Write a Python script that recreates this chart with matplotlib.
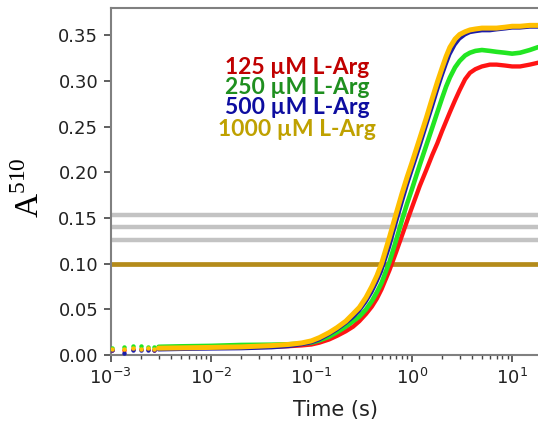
import matplotlib
matplotlib.use("Agg")
import matplotlib.pyplot as plt
from matplotlib.ticker import LogLocator, FixedLocator, FormatStrFormatter

# ---- data -----------------------------------------------------------
# sparse first samples (shown as separate dots)
t_early = [0.00103, 0.00136, 0.00168, 0.00200, 0.00235, 0.00270]
a_early_125 = [0.0060, 0.0050, 0.0070, 0.0065, 0.0070, 0.0060]
a_early_250 = [0.0075, 0.0090, 0.0095, 0.0095, 0.0090, 0.0085]
a_early_500 = [0.0050, 0.0025, 0.0055, 0.0050, 0.0060, 0.0050]
a_early_1000 = [0.0070, 0.0068, 0.0072, 0.0070, 0.0072, 0.0068]

# dense part of the traces
t_trace = [0.003, 0.005, 0.01, 0.02, 0.04, 0.06, 0.08, 0.1, 0.12, 0.15,
           0.18, 0.22, 0.26, 0.3, 0.35, 0.4, 0.45, 0.5, 0.6, 0.7,
           0.8, 0.9, 1.0, 1.2, 1.4, 1.6, 1.8, 2.0, 2.2, 2.4,
           2.7, 3.0, 3.4, 3.8, 4.3, 5.0, 6.0, 7.0, 8.5, 10,
           12, 15, 18, 22, 30]
a_125 = [0.0075, 0.0078, 0.0080, 0.0085, 0.0090, 0.0097, 0.0105, 0.0115, 0.0135, 0.017,
         0.021, 0.026, 0.031, 0.037, 0.045, 0.053, 0.062, 0.072, 0.093, 0.113,
         0.131, 0.147, 0.161, 0.185, 0.203, 0.219, 0.232, 0.245, 0.256, 0.266,
         0.279, 0.290, 0.302, 0.309, 0.313, 0.316, 0.318, 0.318, 0.317, 0.316,
         0.316, 0.318, 0.320, 0.322, 0.323]
a_250 = [0.0090, 0.0095, 0.0100, 0.0110, 0.0113, 0.0118, 0.0125, 0.0135, 0.016, 0.020,
         0.025, 0.031, 0.037, 0.042, 0.050, 0.059, 0.069, 0.079, 0.102, 0.126,
         0.148, 0.166, 0.181, 0.208, 0.230, 0.249, 0.266, 0.281, 0.294, 0.304,
         0.315, 0.322, 0.328, 0.331, 0.333, 0.334, 0.333, 0.332, 0.331, 0.330,
         0.331, 0.334, 0.337, 0.339, 0.341]
a_500 = [0.0055, 0.0060, 0.0065, 0.0068, 0.0078, 0.0092, 0.0112, 0.0134, 0.0165, 0.0222,
         0.0275, 0.0345, 0.041, 0.048, 0.058, 0.0685, 0.080, 0.0915, 0.118, 0.1445,
         0.1665, 0.1855, 0.201, 0.2275, 0.251, 0.271, 0.2895, 0.305, 0.318, 0.329,
         0.3395, 0.346, 0.3505, 0.353, 0.354, 0.355, 0.355, 0.356, 0.357, 0.358,
         0.358, 0.359, 0.359, 0.360, 0.360]
a_1000 = [0.0075, 0.0078, 0.0083, 0.0089, 0.0103, 0.0116, 0.0132, 0.0155, 0.019, 0.0245,
          0.030, 0.037, 0.045, 0.052, 0.063, 0.075, 0.087, 0.100, 0.129, 0.155,
          0.177, 0.195, 0.210, 0.237, 0.260, 0.281, 0.299, 0.314, 0.327, 0.337,
          0.346, 0.351, 0.354, 0.356, 0.357, 0.358, 0.358, 0.358, 0.359, 0.360,
          0.360, 0.361, 0.361, 0.362, 0.362]

# reference levels
gray_levels = [0.153, 0.140, 0.126]
gold_level = 0.100

labels = ["125 \u00b5M L-Arg", "250 \u00b5M L-Arg", "500 \u00b5M L-Arg", "1000 \u00b5M L-Arg"]
line_colors = ["#ff1414", "#22e622", "#1c1ca8", "#ffbf00"]
text_colors = ["#c00000", "#1f8f1f", "#0d0da0", "#bfa100"]
y_ticks = [0.00, 0.05, 0.10, 0.15, 0.20, 0.25, 0.30, 0.35]

# ---- figure ---------------------------------------------------------
fig = plt.figure(figsize=(5.38, 4.26), dpi=100)
W, H = 538, 426
x_left, x_right = 110.7, 560.0
y_bottom, y_top = 355.0, 8.0
ax = fig.add_axes([x_left / W, 1 - y_bottom / H,
                   (x_right - x_left) / W, (y_bottom - y_top) / H])
ax.set_xscale("log")
ax.set_xlim(1e-3, 30)
ax.set_ylim(0, 0.38)

for lv in gray_levels:
    ax.axhline(lv, color="#c3c3c3", lw=3.2, zorder=1)
ax.axhline(gold_level, color="#b48b1a", lw=3.4, zorder=1)

early = [a_early_125, a_early_250, a_early_500, a_early_1000]
traces = [a_125, a_250, a_500, a_1000]
widths = [3.1, 3.3, 2.2, 3.6]
for ae, a, c, w in zip(early, traces, line_colors, widths):
    ax.plot(t_early, ae, "o", ms=3.2, color=c, mec="none", zorder=3)
    ax.plot(t_trace, a, "-", lw=w, color=c, solid_capstyle="round",
            solid_joinstyle="round", zorder=3)

# axes styling
for s in ax.spines.values():
    s.set_color("#808080")
    s.set_linewidth(1.5)
ax.yaxis.set_major_locator(FixedLocator(y_ticks))
ax.yaxis.set_major_formatter(FormatStrFormatter("%.2f"))
ax.xaxis.set_major_locator(LogLocator(base=10, numticks=10))
ax.xaxis.set_minor_locator(LogLocator(base=10, subs=range(2, 10), numticks=20))
ax.tick_params(axis="both", which="major", direction="out", length=5, width=1.2,
               color="#444444", labelsize=13, labelcolor="#222222", pad=4)
ax.tick_params(axis="x", which="minor", direction="out", length=3, width=1.0,
               color="#444444")
ax.set_xlabel("Time (s)", fontsize=15, color="#222222", labelpad=9)

# y label: serif "A" with superscript wavelength
fig.text(30 / W, 1 - 188 / H, r"A$^{\mathregular{510}}$", fontsize=24,
         family="Liberation Serif", rotation=90, ha="center", va="center")

# colored series labels
y_px = [68, 88, 108, 129]
for lab, c, yp in zip(labels, text_colors, y_px):
    fig.text(297 / W, 1 - yp / H, lab, color=c, fontsize=16.5, fontweight="bold",
             family="Lato", ha="center", va="center")

fig.savefig("out.png", dpi=100)
